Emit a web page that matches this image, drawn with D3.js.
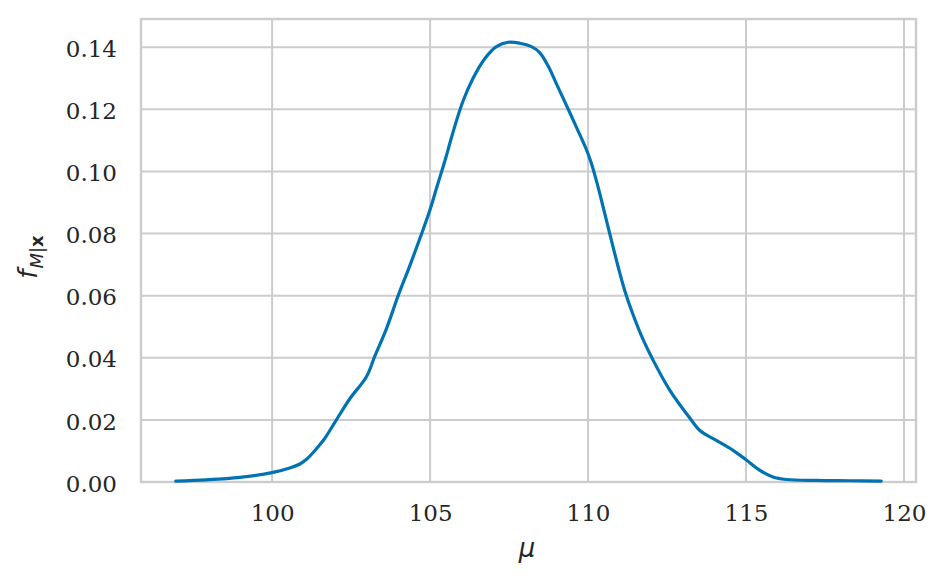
<!DOCTYPE html>
<html>
<head>
<meta charset="utf-8">
<script src="https://cdn.jsdelivr.net/npm/d3@7"></script>
<style>
  html, body { margin: 0; padding: 0; background: #fff; }
  svg { display: block; }
</style>
</head>
<body>
<svg id="chart" width="948" height="586"></svg>
<script>
// Data: density curve (mu, density)
const muValues = [96.95, 97.92, 98.98, 100.03, 100.56, 100.88, 101.09, 101.30, 101.51, 101.67, 102.04, 102.46, 102.99, 103.25, 103.62, 103.99, 104.36, 104.73, 104.99, 105.20, 105.36, 105.5, 105.73, 106.04, 106.36, 106.73, 107.10, 107.47, 107.84, 108.21, 108.47, 108.73, 109.00, 109.32, 109.63, 109.95, 110.11, 110.32, 110.53, 110.74, 110.95, 111.16, 111.42, 111.74, 112.06, 112.59, 113.22, 113.54, 114.06, 114.59, 115.01, 115.43, 115.85, 116.28, 117.23, 118.28, 119.28];
const densityValues = [0.0003, 0.0007, 0.0015, 0.0031, 0.0045, 0.0058, 0.0073, 0.0095, 0.0120, 0.0141, 0.0201, 0.0268, 0.0340, 0.0405, 0.0494, 0.0600, 0.0697, 0.0799, 0.0874, 0.0945, 0.0998, 0.1045, 0.1128, 0.1226, 0.1300, 0.1363, 0.1402, 0.1416, 0.1413, 0.1402, 0.1383, 0.1341, 0.1282, 0.1212, 0.1143, 0.1070, 0.1025, 0.0949, 0.0864, 0.0778, 0.0694, 0.0617, 0.0540, 0.0459, 0.0392, 0.0295, 0.0206, 0.0166, 0.0134, 0.0102, 0.0071, 0.0038, 0.0016, 0.0008, 0.0005, 0.0004, 0.0003];
const xTicks = [100, 105, 110, 115, 120];
const yTicks = [0.00, 0.02, 0.04, 0.06, 0.08, 0.10, 0.12, 0.14];

const svg = d3.select("#chart");
const mLeft = 141, mRight = 916, mTop = 19, mBottom = 482;

const x = d3.scaleLinear().domain([95.85, 120.38]).range([mLeft, mRight]);
const y = d3.scaleLinear().domain([0, 0.1491]).range([mBottom, mTop]);

const grid = "#cccccc";
const textColor = "#262626";
const font = "'DejaVu Serif', serif";

// gridlines
svg.append("g").selectAll("line").data(xTicks).join("line")
  .attr("x1", d => x(d)).attr("x2", d => x(d))
  .attr("y1", mTop).attr("y2", mBottom)
  .attr("stroke", grid).attr("stroke-width", 2);
svg.append("g").selectAll("line").data(yTicks).join("line")
  .attr("x1", mLeft).attr("x2", mRight)
  .attr("y1", d => y(d)).attr("y2", d => y(d))
  .attr("stroke", grid).attr("stroke-width", 2);

// axes (labels only)
const xAxis = svg.append("g").attr("transform", `translate(0,${mBottom})`)
  .call(d3.axisBottom(x).tickValues(xTicks).tickSize(0).tickPadding(23).tickFormat(d3.format("d")));
const yAxis = svg.append("g").attr("transform", `translate(${mLeft},0)`)
  .call(d3.axisLeft(y).tickValues(yTicks).tickSize(0).tickPadding(24).tickFormat(d3.format(".2f")));
[xAxis, yAxis].forEach(a => {
  a.select(".domain").remove();
  a.selectAll("text").attr("fill", textColor).style("font-family", font).style("font-size", "23px");
});
yAxis.selectAll("text").attr("dy", "0.4em");

// frame
svg.append("rect").attr("x", mLeft).attr("y", mTop)
  .attr("width", mRight - mLeft).attr("height", mBottom - mTop)
  .attr("fill", "none").attr("stroke", grid).attr("stroke-width", 2.4);

// density line
const pts = muValues.map((m, i) => [m, densityValues[i]]);
svg.append("path").datum(pts)
  .attr("fill", "none").attr("stroke", "#0173b2").attr("stroke-width", 3.2)
  .attr("stroke-linejoin", "round").attr("stroke-linecap", "round")
  .attr("d", d3.line().x(d => x(d[0])).y(d => y(d[1])).curve(d3.curveCatmullRom.alpha(0.5)));

// x label
svg.append("text").attr("x", 527).attr("y", 557).attr("text-anchor", "middle")
  .attr("fill", textColor).style("font-family", "'DejaVu Sans', sans-serif")
  .style("font-style", "italic").style("font-size", "26px").text("μ");

// y label
const yl = svg.append("text").attr("transform", "translate(37,257) rotate(-90)")
  .attr("text-anchor", "middle").attr("fill", textColor)
  .style("font-family", "'DejaVu Sans', sans-serif").style("font-size", "26px");
yl.append("tspan").style("font-style", "italic").text("f");
yl.append("tspan").attr("dy", 6).attr("dx", 1).style("font-style", "italic").style("font-size", "18px").text("M");
yl.append("tspan").style("font-size", "18px").text("|");
yl.append("tspan").style("font-size", "18px").style("font-weight", "bold").text("x");
</script>
</body>
</html>
